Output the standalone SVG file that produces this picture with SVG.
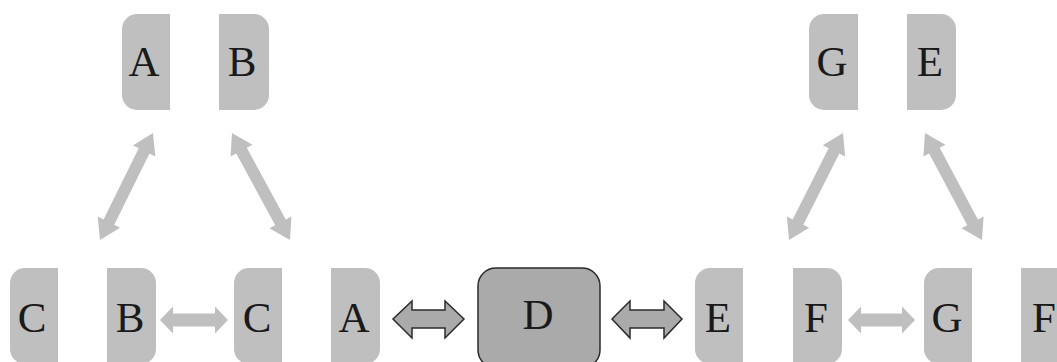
<svg xmlns="http://www.w3.org/2000/svg" width="1057" height="362" viewBox="0 0 1057 362">
<style>
.box{fill:#bfbfbf}
.dbox{fill:#aaaaaa;stroke:#2b2b2b;stroke-width:1.5}
.lbl{font-family:"Liberation Serif","Times New Roman",serif;font-size:43px;fill:#1a1a1a;text-anchor:middle}
.la{fill:#bfbfbf}
.da{fill:#aaaaaa;stroke:#2b2b2b;stroke-width:1.5;stroke-linejoin:miter}
</style>
<rect width="1057" height="362" fill="#ffffff"/>
<g id="top-A"><path class="box" d="M170 14 H137 A15 15 0 0 0 122 29 V95 A15 15 0 0 0 137 110 H170 Z"/><text class="lbl" x="144" y="76">A</text></g>
<g id="top-B"><path class="box" d="M219 14 H254 A15 15 0 0 1 269 29 V95 A15 15 0 0 1 254 110 H219 Z"/><text class="lbl" x="242" y="76">B</text></g>
<g id="top-G"><path class="box" d="M858 14 H824 A15 15 0 0 0 809 29 V95 A15 15 0 0 0 824 110 H858 Z"/><text class="lbl" x="832" y="76">G</text></g>
<g id="top-E"><path class="box" d="M907 14 H941 A15 15 0 0 1 956 29 V95 A15 15 0 0 1 941 110 H907 Z"/><text class="lbl" x="930" y="76">E</text></g>
<g id="bot-C1"><path class="box" d="M58 268 H25 A15 15 0 0 0 10 283 V349 A15 15 0 0 0 25 364 H58 Z"/><text class="lbl" x="32" y="332">C</text></g>
<g id="bot-B"><path class="box" d="M107 268 H141 A15 15 0 0 1 156 283 V349 A15 15 0 0 1 141 364 H107 Z"/><text class="lbl" x="130" y="332">B</text></g>
<g id="bot-C2"><path class="box" d="M282 268 H249 A15 15 0 0 0 234 283 V349 A15 15 0 0 0 249 364 H282 Z"/><text class="lbl" x="257" y="332">C</text></g>
<g id="bot-A"><path class="box" d="M331 268 H365 A15 15 0 0 1 380 283 V349 A15 15 0 0 1 365 364 H331 Z"/><text class="lbl" x="354" y="332">A</text></g>
<g id="D"><rect class="dbox" x="478" y="268" width="122" height="100" rx="18" ry="18"/><text class="lbl" x="538" y="329">D</text></g>
<g id="bot-E"><path class="box" d="M743 268 H710 A15 15 0 0 0 695 283 V349 A15 15 0 0 0 710 364 H743 Z"/><text class="lbl" x="718" y="332">E</text></g>
<g id="bot-F1"><path class="box" d="M793 268 H827 A15 15 0 0 1 842 283 V349 A15 15 0 0 1 827 364 H793 Z"/><text class="lbl" x="816" y="332">F</text></g>
<g id="bot-G"><path class="box" d="M972 268 H939 A15 15 0 0 0 924 283 V349 A15 15 0 0 0 939 364 H972 Z"/><text class="lbl" x="947" y="332">G</text></g>
<g id="bot-F2"><path class="box" d="M1021 268 H1055 A15 15 0 0 1 1070 283 V349 A15 15 0 0 1 1055 364 H1021 Z"/><text class="lbl" x="1044" y="332">F</text></g>
<g id="connectors">
<polygon class="la" transform="translate(100,240) rotate(-63.65)" points="0,0 20,-12.5 20,-6 99.4,-6 99.4,-12.5 119.4,0 99.4,12.5 99.4,6 20,6 20,12.5"/>
<polygon class="la" transform="translate(232,133) rotate(61.54)" points="0,0 20,-12.5 20,-6 101.7,-6 101.7,-12.5 121.7,0 101.7,12.5 101.7,6 20,6 20,12.5"/>
<polygon class="la" transform="translate(789,240) rotate(-63.23)" points="0,0 20,-12.5 20,-6 99.85,-6 99.85,-12.5 119.85,0 99.85,12.5 99.85,6 20,6 20,12.5"/>
<polygon class="la" transform="translate(925,133) rotate(61.95)" points="0,0 20,-12.5 20,-6 101.2,-6 101.2,-12.5 121.2,0 101.2,12.5 101.2,6 20,6 20,12.5"/>
<polygon class="la" points="160,320 173,306.5 173,313.5 215,313.5 215,306.5 228,320 215,333.5 215,326.5 173,326.5 173,333.5"/>
<polygon class="la" points="848,320 861,306.5 861,313.5 902,313.5 902,306.5 915,320 902,333.5 902,326.5 861,326.5 861,333.5"/>
<polygon class="da" points="393,319 412,301 412,310 445,310 445,301 464,319 445,338 445,328 412,328 412,338"/>
<polygon class="da" points="612,319 630,301 630,310 664,310 664,301 682,319 664,338 664,328 630,328 630,338"/>
</g>
</svg>
